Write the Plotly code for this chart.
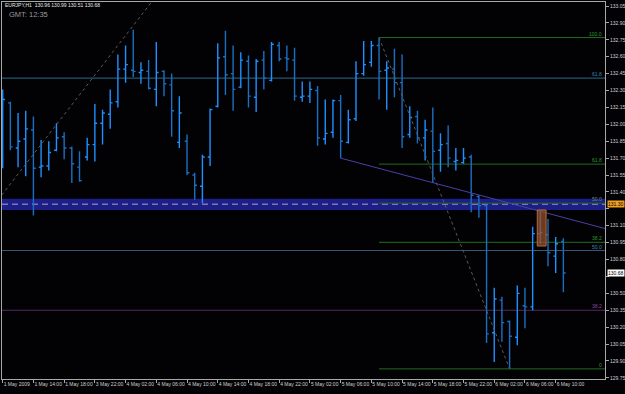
import plotly.graph_objects as go

# ---------------- data ----------------
bar_index = list(range(74))
opens = [131.70, 132.19, 131.79, 131.87, 131.95, 131.62, 131.63, 131.77, 131.89, 131.79,
         131.62, 131.71, 131.82, 132.01, 132.09, 132.20, 132.49, 132.48, 132.46, 132.47,
         132.31, 132.47, 132.35, 131.84, 131.85, 131.55, 131.45, 131.71, 132.16, 132.60,
         132.45, 132.33, 132.56, 132.24, 132.57, 132.39, 132.70, 132.59, 132.57, 132.24,
         132.25, 132.30, 131.87, 131.93, 132.21, 131.84, 132.05, 132.45, 132.55, 132.70,
         132.48, 132.49, 132.37, 131.91, 132.07, 131.88, 131.94, 131.77, 131.83, 131.67,
         131.66, 131.71, 131.36, 131.28, 130.15, 130.44, 130.25, 130.11, 130.39, 130.38,
         131.03, 131.02, 130.83, 130.96]
highs = [132.31, 132.20, 132.10, 132.12, 132.07, 131.86, 131.85, 132.01, 131.93, 131.80,
         131.76, 131.88, 132.18, 132.13, 132.31, 132.62, 132.70, 132.84, 132.55, 132.57,
         132.73, 132.48, 132.45, 132.25, 131.91, 131.57, 131.73, 132.14, 132.72, 132.83,
         132.70, 132.64, 132.61, 132.58, 132.65, 132.73, 132.73, 132.70, 132.68, 132.38,
         132.38, 132.34, 132.22, 132.22, 132.26, 132.13, 132.56, 132.74, 132.74, 132.77,
         132.56, 132.67, 132.62, 132.16, 132.12, 132.04, 132.15, 131.92, 131.99, 131.79,
         131.79, 131.73, 131.37, 131.29, 130.55, 130.47, 130.26, 130.57, 130.55, 131.09,
         131.23, 131.16, 131.00, 130.99]
lows = [131.61, 131.77, 131.62, 131.54, 131.19, 131.53, 131.59, 131.76, 131.69, 131.48,
        131.49, 131.68, 131.67, 131.82, 131.96, 132.15, 132.37, 132.42, 132.36, 132.31,
        132.16, 132.25, 131.89, 131.79, 131.55, 131.33, 131.30, 131.63, 132.15, 132.26,
        132.12, 132.32, 132.15, 132.11, 132.31, 132.38, 132.56, 132.47, 132.21, 132.20,
        132.19, 131.81, 131.82, 131.88, 131.70, 131.83, 132.03, 132.43, 132.51, 132.22,
        132.13, 132.24, 131.79, 131.88, 131.83, 131.68, 131.48, 131.58, 131.62, 131.59,
        131.65, 131.22, 131.17, 130.06, 129.89, 130.07, 129.83, 130.04, 130.19, 130.35,
        130.94, 130.74, 130.68, 130.51]
closes = [132.22, 131.80, 131.85, 131.96, 131.61, 131.63, 131.75, 131.88, 131.79, 131.65,
          131.50, 131.82, 132.01, 132.10, 132.19, 132.49, 132.53, 132.47, 132.48, 132.32,
          132.46, 132.36, 132.12, 132.10, 131.57, 131.46, 131.71, 132.13, 132.59, 132.44,
          132.31, 132.57, 132.25, 132.56, 132.41, 132.71, 132.58, 132.58, 132.25, 132.25,
          132.31, 131.88, 131.92, 132.21, 131.85, 132.04, 132.45, 132.53, 132.70, 132.47,
          132.50, 132.37, 131.89, 132.06, 131.88, 131.95, 131.76, 131.82, 131.70, 131.68,
          131.70, 131.37, 131.28, 130.14, 130.45, 130.24, 130.12, 130.50, 130.38, 131.03,
          131.04, 130.86, 130.94, 130.68]

time_tick_index = [0, 4, 8, 12, 16, 20, 24, 28, 32, 36, 40, 44, 48, 52, 56, 60, 64, 68, 72]
time_tick_labels = ["1 May 2009", "1 May 14:00", "1 May 18:00", "3 May 22:00", "4 May 02:00",
                    "4 May 06:00", "4 May 10:00", "4 May 14:00", "4 May 18:00", "4 May 22:00",
                    "5 May 02:00", "5 May 06:00", "5 May 10:00", "5 May 14:00", "5 May 18:00",
                    "5 May 22:00", "6 May 02:00", "6 May 06:00", "6 May 10:00"]
price_ticks = [129.75, 129.90, 130.05, 130.20, 130.35, 130.50, 130.65, 130.80, 130.95,
               131.10, 131.25, 131.40, 131.55, 131.70, 131.85, 132.00, 132.15, 132.30,
               132.45, 132.60, 132.75, 132.90, 133.05]
# labels hidden behind the price boxes in the reference
price_tick_labels = ["129.75", "129.90", "130.05", "130.20", "130.35", "130.50", "", "130.80", "130.95",
                     "131.10", "", "131.40", "131.55", "131.70", "131.85", "132.00", "132.15", "132.30",
                     "132.45", "132.60", "132.75", "132.90", "133.05"]

# Fibonacci retracement (green) from swing high bar to swing low bar
fib_high_bar, fib_high = 49, 132.77
fib_low_bar, fib_low = 66, 129.83
fib_levels = [100.0, 61.8, 50.0, 38.2, 0.0]

# other horizontal levels
blue_levels = [132.41, 130.88]
blue_labels = ["61.8", "50.0"]
purple_level = 130.35
purple_label = "38.2"
band_low, band_high, band_mid = 131.24, 131.34, 131.29
band_label = "131.30"

trend_x = [44, 78.42]
trend_y = [131.70, 131.075]
diag_x = [-0.6, 20.0]
diag_y = [131.33, 133.14]
rect_x = [69.6, 70.75]
rect_y = [130.92, 131.24]

symbol_text = "EURJPY,H1  130.96 130.99 130.51 130.68"
last_price = 130.68
gmt_text = "GMT: 12:35"

# ---------------- style ----------------
BG = "#020205"
UP = "#1e90ff"
DOWN = "#1b6fc2"
AXIS = "#a8a8a8"
TXT = "#d0d0d0"
FONT = "Liberation Sans Narrow, Liberation Sans, Arial, sans-serif"
X_RANGE = [-0.09, 78.42]
Y_RANGE = [129.74, 133.0855]

fig = go.Figure()

# dotted diagonal lines
fig.add_trace(go.Scatter(x=diag_x, y=diag_y, mode="lines",
                         line=dict(color="#5a5a5a", width=1, dash="dot"),
                         hoverinfo="skip", showlegend=False))
fig.add_trace(go.Scatter(x=[fib_high_bar, fib_low_bar], y=[fib_high, fib_low], mode="lines",
                         line=dict(color="#5a5a5a", width=1, dash="dot"),
                         hoverinfo="skip", showlegend=False))
# trendline
fig.add_trace(go.Scatter(x=trend_x, y=trend_y, mode="lines",
                         line=dict(color="#4c3fa6", width=1),
                         hoverinfo="skip", showlegend=False))

fig.add_trace(go.Ohlc(x=bar_index, open=opens, high=highs, low=lows, close=closes,
                      increasing=dict(line=dict(color=UP, width=1.4)),
                      decreasing=dict(line=dict(color=DOWN, width=1.4)),
                      tickwidth=0.3, hoverinfo="skip", showlegend=False))

shapes = []
annotations = []
# band
shapes.append(dict(type="rect", xref="paper", x0=0, x1=1, yref="y", y0=band_low, y1=band_high,
                   fillcolor="#1e1e88", line=dict(width=0), layer="below"))
shapes.append(dict(type="line", xref="paper", x0=0, x1=1, yref="y", y0=band_mid, y1=band_mid,
                   line=dict(color="#7a7aa6", width=1.5, dash="6px,4px"), layer="below"))
# blue levels
blue_cols = ["#2b6a8c", "#3a586e"]
for lv, lab, col in zip(blue_levels, blue_labels, blue_cols):
    shapes.append(dict(type="line", xref="paper", x0=0, x1=1, yref="y", y0=lv, y1=lv,
                       line=dict(color=col, width=1), layer="below"))
    annotations.append(dict(x=0.998, xref="paper", y=lv, yref="y", text=lab, showarrow=False,
                            xanchor="right", yanchor="bottom", yshift=-1,
                            font=dict(size=5, color="#3d85b0", family=FONT)))
# purple level
shapes.append(dict(type="line", xref="paper", x0=0, x1=1, yref="y", y0=purple_level, y1=purple_level,
                   line=dict(color="#55285e", width=1), layer="below"))
annotations.append(dict(x=0.998, xref="paper", y=purple_level, yref="y", text=purple_label,
                        showarrow=False, xanchor="right", yanchor="bottom", yshift=-1,
                        font=dict(size=5, color="#8a4a9c", family=FONT)))
# fib levels
for lv in fib_levels:
    p = fib_low + (fib_high - fib_low) * lv / 100.0
    shapes.append(dict(type="line", xref="x", x0=fib_high_bar, x1=X_RANGE[1], yref="y", y0=p, y1=p,
                       line=dict(color="#1f6e1f", width=1), layer="below"))
    annotations.append(dict(x=0.998, xref="paper", y=p, yref="y",
                            text=("%.1f" % lv) if lv != 0 else "0", showarrow=False,
                            xanchor="right", yanchor="bottom", yshift=-1,
                            font=dict(size=5, color="#2f9a2f" if lv != 50.0 else "#6c8c6c", family=FONT)))
# orange rectangle
shapes.append(dict(type="rect", xref="x", x0=rect_x[0], x1=rect_x[1], yref="y", y0=rect_y[0], y1=rect_y[1],
                   fillcolor="rgba(150,78,40,0.75)", line=dict(color="#b46a3c", width=1), layer="above"))

# price boxes on axis
annotations.append(dict(x=1.0, xref="paper", y=band_mid, yref="y", text=band_label, showarrow=False,
                        xanchor="left", xshift=2, bgcolor="#f0a020", borderpad=0,
                        font=dict(size=5, color="#000000", family=FONT)))
annotations.append(dict(x=1.0, xref="paper", y=last_price, yref="y", text="%.2f" % last_price,
                        showarrow=False, xanchor="left", xshift=2, bgcolor="#ffffff", borderpad=0,
                        font=dict(size=5, color="#000000", family=FONT)))
# header
annotations.append(dict(x=0.002, xref="paper", y=1 - 3 / 377, yref="paper", text=symbol_text,
                        showarrow=False, xanchor="left", yanchor="middle",
                        font=dict(size=5, color="#e8e8e8", family=FONT)))
annotations.append(dict(x=0.008, xref="paper", y=1 - 12 / 377, yref="paper", text=gmt_text,
                        showarrow=False, xanchor="left", yanchor="middle",
                        font=dict(size=7.5, color="#9a9a9a", family="Liberation Sans, Arial, sans-serif")))

fig.update_layout(
    width=625, height=394,
    margin=dict(l=2, r=20, t=2, b=15, autoexpand=False),
    paper_bgcolor=BG, plot_bgcolor=BG,
    shapes=shapes, annotations=annotations,
    showlegend=False,
    xaxis=dict(range=X_RANGE, tickmode="array", tickvals=time_tick_index, ticktext=time_tick_labels,
               ticks="outside", ticklen=3, tickcolor=AXIS, showgrid=False, zeroline=False,
               showline=True, linecolor=AXIS, linewidth=1, mirror=True, tickangle=0,
               automargin=False,
               ticklabelposition="outside right", rangeslider=dict(visible=False),
               tickfont=dict(size=5, color=TXT, family=FONT)),
    yaxis=dict(range=Y_RANGE, side="right", tickmode="array", tickvals=price_ticks,
               ticktext=price_tick_labels, automargin=False,
               ticks="outside", ticklen=3, tickcolor=AXIS, showgrid=False, zeroline=False,
               showline=True, linecolor=AXIS, linewidth=1, mirror=True,
               tickfont=dict(size=5, color=TXT, family=FONT)),
)

fig.write_html("out.html")
